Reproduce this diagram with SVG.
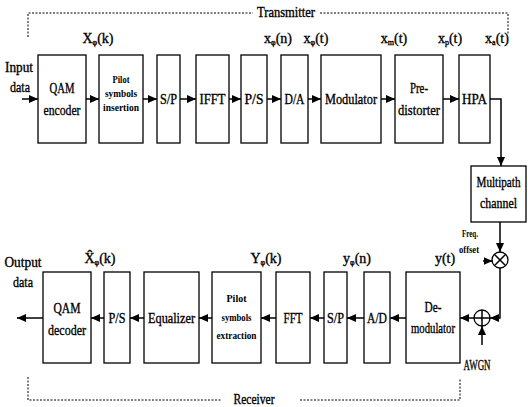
<svg xmlns="http://www.w3.org/2000/svg" width="528" height="407" viewBox="0 0 528 407">
<defs>
<style>
text{font-family:"Liberation Serif","Times New Roman",serif;fill:#000;text-anchor:middle;stroke:#000;stroke-width:0.35}
.b{font-size:15px}
.s{font-size:11px;font-weight:bold;stroke-width:0}
.l{font-size:14px}
.sub{font-size:8px}
rect{fill:#fff;stroke:#000;stroke-width:1.3}
.w{fill:none;stroke:#000;stroke-width:1.5}
.d{fill:none;stroke:#000;stroke-width:1;stroke-dasharray:2,1.5}
</style>
<marker id="ah" markerWidth="9" markerHeight="8" refX="9" refY="4" orient="auto" markerUnits="userSpaceOnUse">
<path d="M0,0 L9,4 L0,8 Z" fill="#000"/>
</marker>
</defs>

<!-- frames -->
<g id="frames">
<path class="d" d="M28,37 V13 H253"/>
<path class="d" d="M320,13 H508 V35"/>
<text class="l" x="286" y="17" textLength="58" lengthAdjust="spacingAndGlyphs">Transmitter</text>
<path class="d" d="M28,377 V400 H222"/>
<path class="d" d="M300,400 H460 V378"/>
<text class="l" x="254" y="404" textLength="41" lengthAdjust="spacingAndGlyphs">Receiver</text>
</g>

<!-- Transmitter nodes -->
<g id="qam-encoder"><rect x="38" y="55" width="48" height="88"/>
<text class="b" x="62" y="93" textLength="25" lengthAdjust="spacingAndGlyphs">QAM</text>
<text class="b" x="62" y="115" textLength="37" lengthAdjust="spacingAndGlyphs">encoder</text></g>
<g id="pilot-insertion"><rect x="99" y="55" width="44" height="88"/>
<text class="s" x="121" y="83" textLength="17" lengthAdjust="spacingAndGlyphs">Pilot</text>
<text class="s" x="121" y="97" textLength="32" lengthAdjust="spacingAndGlyphs">symbols</text>
<text class="s" x="121" y="111" textLength="36" lengthAdjust="spacingAndGlyphs">insertion</text></g>
<g id="sp-tx"><rect x="157" y="55" width="23" height="88"/>
<text class="b" x="168.5" y="104" textLength="17" lengthAdjust="spacingAndGlyphs">S/P</text></g>
<g id="ifft"><rect x="196" y="55" width="33" height="88"/>
<text class="b" x="212.5" y="104" textLength="26" lengthAdjust="spacingAndGlyphs">IFFT</text></g>
<g id="ps-tx"><rect x="241" y="55" width="26" height="88"/>
<text class="b" x="254" y="104" textLength="19" lengthAdjust="spacingAndGlyphs">P/S</text></g>
<g id="da"><rect x="281" y="55" width="27" height="88"/>
<text class="b" x="294.5" y="104" textLength="20" lengthAdjust="spacingAndGlyphs">D/A</text></g>
<g id="modulator"><rect x="321" y="55" width="60" height="88"/>
<text class="b" x="351" y="104" textLength="52" lengthAdjust="spacingAndGlyphs">Modulator</text></g>
<g id="predistorter"><rect x="395" y="55" width="48" height="88"/>
<text class="b" x="419" y="93" textLength="18" lengthAdjust="spacingAndGlyphs">Pre-</text>
<text class="b" x="419" y="115" textLength="42" lengthAdjust="spacingAndGlyphs">distorter</text></g>
<g id="hpa"><rect x="459" y="55" width="31" height="88"/>
<text class="b" x="474.5" y="104" textLength="25" lengthAdjust="spacingAndGlyphs">HPA</text></g>
<g id="multipath"><rect x="471" y="166" width="55" height="56"/>
<text class="l" x="498.5" y="187" textLength="44" lengthAdjust="spacingAndGlyphs">Multipath</text>
<text class="l" x="498.5" y="208" textLength="37" lengthAdjust="spacingAndGlyphs">channel</text></g>

<!-- Receiver nodes -->
<g id="qam-decoder"><rect x="43" y="272" width="48" height="91"/>
<text class="b" x="67" y="313" textLength="27" lengthAdjust="spacingAndGlyphs">QAM</text>
<text class="b" x="67" y="335" textLength="38" lengthAdjust="spacingAndGlyphs">decoder</text></g>
<g id="ps-rx"><rect x="104" y="272" width="26" height="91"/>
<text class="b" x="117" y="323" textLength="17" lengthAdjust="spacingAndGlyphs">P/S</text></g>
<g id="equalizer"><rect x="144" y="272" width="55" height="91"/>
<text class="b" x="171.5" y="323" textLength="47" lengthAdjust="spacingAndGlyphs">Equalizer</text></g>
<g id="pilot-extraction"><rect x="212" y="272" width="49" height="91"/>
<text class="s" x="236.5" y="302" textLength="20" lengthAdjust="spacingAndGlyphs">Pilot</text>
<text class="s" x="236.5" y="321" textLength="30" lengthAdjust="spacingAndGlyphs">symbols</text>
<text class="s" x="236.5" y="339" textLength="40" lengthAdjust="spacingAndGlyphs">extraction</text></g>
<g id="fft"><rect x="276" y="272" width="34" height="91"/>
<text class="b" x="293" y="323" textLength="19" lengthAdjust="spacingAndGlyphs">FFT</text></g>
<g id="sp-rx"><rect x="324" y="272" width="23" height="91"/>
<text class="b" x="335.5" y="323" textLength="17" lengthAdjust="spacingAndGlyphs">S/P</text></g>
<g id="ad"><rect x="364" y="272" width="26" height="91"/>
<text class="b" x="377" y="323" textLength="20" lengthAdjust="spacingAndGlyphs">A/D</text></g>
<g id="demodulator"><rect x="406" y="272" width="54" height="91"/>
<text class="b" x="433" y="312" textLength="17" lengthAdjust="spacingAndGlyphs">De-</text>
<text class="b" x="433" y="333" textLength="44" lengthAdjust="spacingAndGlyphs">modulator</text></g>
<g id="multiplier">
<circle cx="500" cy="260" r="8" fill="#fff" stroke="#000" stroke-width="1.3"/>
<path class="w" d="M494.3,254.3 L505.7,265.7 M505.7,254.3 L494.3,265.7" stroke-width="1.2"/></g>
<g id="adder">
<circle cx="482" cy="318" r="8" fill="#fff" stroke="#000" stroke-width="1.3"/>
<path class="w" d="M474,318 H490 M482,310 V326" stroke-width="1.2"/></g>

<!-- connectors -->
<g id="connectors">
<path class="w" d="M22,99 H38" marker-end="url(#ah)"/>
<path class="w" d="M86,99 H99" marker-end="url(#ah)"/>
<path class="w" d="M143,99 H157" marker-end="url(#ah)"/>
<path class="w" d="M180,99 H196" marker-end="url(#ah)"/>
<path class="w" d="M229,99 H241" marker-end="url(#ah)"/>
<path class="w" d="M267,99 H281" marker-end="url(#ah)"/>
<path class="w" d="M308,99 H321" marker-end="url(#ah)"/>
<path class="w" d="M381,99 H395" marker-end="url(#ah)"/>
<path class="w" d="M443,99 H459" marker-end="url(#ah)"/>
<path class="w" d="M490,99 H501 V166" marker-end="url(#ah)"/>
<path class="w" d="M500,222 V252" marker-end="url(#ah)"/>
<path class="w" d="M483,261 H492.5" marker-end="url(#ah)"/>
<path class="w" d="M500,268 V318 H490" marker-end="url(#ah)"/>
<path class="w" d="M482,345 V326" marker-end="url(#ah)"/>
<path class="w" d="M474,318 H460" marker-end="url(#ah)"/>
<path class="w" d="M406,318 H390" marker-end="url(#ah)"/>
<path class="w" d="M364,318 H347" marker-end="url(#ah)"/>
<path class="w" d="M324,318 H310" marker-end="url(#ah)"/>
<path class="w" d="M276,318 H261" marker-end="url(#ah)"/>
<path class="w" d="M212,318 H199" marker-end="url(#ah)"/>
<path class="w" d="M144,318 H130" marker-end="url(#ah)"/>
<path class="w" d="M104,318 H91" marker-end="url(#ah)"/>
<path class="w" d="M43,318 H17" marker-end="url(#ah)"/>
</g>

<!-- labels -->
<g id="labels">
<text class="l" x="19" y="72" textLength="28" lengthAdjust="spacingAndGlyphs">Input</text>
<text class="l" x="20" y="92" textLength="20" lengthAdjust="spacingAndGlyphs">data</text>
<text class="l" x="23" y="267" textLength="37" lengthAdjust="spacingAndGlyphs">Output</text>
<text class="l" x="23" y="287" textLength="20" lengthAdjust="spacingAndGlyphs">data</text>
<text class="l" x="477" y="370" textLength="27" lengthAdjust="spacingAndGlyphs">AWGN</text>
<text class="s" x="470" y="237" textLength="16" lengthAdjust="spacingAndGlyphs">Freq.</text>
<text class="s" x="469" y="253" textLength="20" lengthAdjust="spacingAndGlyphs">offset</text>

<text class="l" x="98" y="43">X<tspan class="sub" dy="2">φ</tspan><tspan dy="-2">(k)</tspan></text>
<text class="l" x="278" y="43">x<tspan class="sub" dy="2">φ</tspan><tspan dy="-2">(n)</tspan></text>
<text class="l" x="316" y="43">x<tspan class="sub" dy="2">φ</tspan><tspan dy="-2">(t)</tspan></text>
<text class="l" x="394" y="43">x<tspan class="sub" dy="2">m</tspan><tspan dy="-2">(t)</tspan></text>
<text class="l" x="450" y="43">x<tspan class="sub" dy="2">p</tspan><tspan dy="-2">(t)</tspan></text>
<text class="l" x="497" y="43">x<tspan class="sub" dy="2">a</tspan><tspan dy="-2">(t)</tspan></text>

<text class="l" x="100" y="263">X̂<tspan class="sub" dy="2">φ</tspan><tspan dy="-2">(k)</tspan></text>
<text class="l" x="266" y="263">Y<tspan class="sub" dy="2">φ</tspan><tspan dy="-2">(k)</tspan></text>
<text class="l" x="357" y="263">y<tspan class="sub" dy="2">φ</tspan><tspan dy="-2">(n)</tspan></text>
<text class="l" x="445" y="263">y(t)</text>
</g>
</svg>
